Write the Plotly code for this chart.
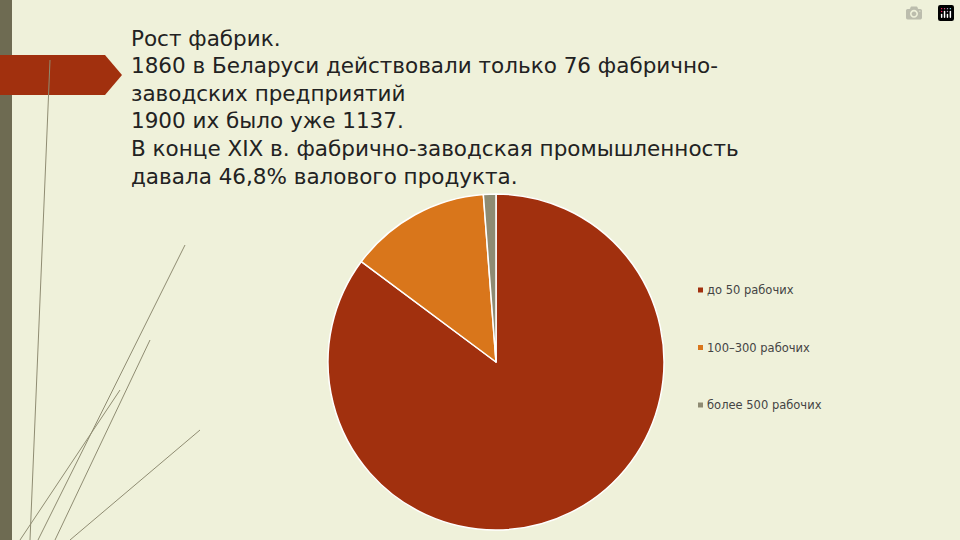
import plotly.graph_objects as go

categories = ["до 50 рабочих", "100–300 рабочих", "более 500 рабочих"]
shares = [85.2, 13.6, 1.2]
colors = ["#A1300E", "#D9761B", "#8E8B73"]
title_lines = [
    "Рост фабрик.",
    "1860 в Беларуси действовали только 76 фабрично-",
    "заводских предприятий",
    "1900 их было уже 1137.",
    "В конце XIX в. фабрично-заводская промышленность",
    "давала 46,8% валового продукта.",
]

W, H = 960, 540
fig = go.Figure(go.Pie(
    labels=categories, values=shares, sort=False, direction="clockwise", rotation=0,
    marker=dict(colors=colors, line=dict(color="white", width=1.5)),
    textinfo="none", hoverinfo="label+percent", showlegend=False,
    domain=dict(x=[328/W, 664/W], y=[1-530/H, 1-194/H]),
))

shapes = [
    dict(type="rect", xref="paper", yref="paper", x0=0, x1=12/W, y0=0, y1=1,
         fillcolor="#6E6B52", line=dict(width=0), layer="below"),
    dict(type="path", xref="paper", yref="paper",
         path=f"M 0 {1-55/H} L {105/W} {1-55/H} L {122/W} {1-75/H} L {105/W} {1-95/H} L 0 {1-95/H} Z",
         fillcolor="#A1300E", line=dict(width=0)),
]
for (x0, y0, x1, y1) in [(30, 540, 50, 60), (38, 540, 185, 245), (55, 540, 150, 340),
                          (20, 540, 120, 390), (70, 540, 200, 430)]:
    shapes.append(dict(type="line", xref="paper", yref="paper", x0=x0/W, y0=1-y0/H,
                       x1=x1/W, y1=1-y1/H, line=dict(color="#8F8C72", width=1)))

annotations = []
for i, line in enumerate(title_lines):
    annotations.append(dict(text=line, xref="paper", yref="paper", x=129/W, y=1-(38+27.6*i)/H,
                            xanchor="left", yanchor="middle", showarrow=False,
                            font=dict(family="DejaVu Sans", size=21.5, color="#222222")))
for i, (lab, c) in enumerate(zip(categories, colors)):
    yy = 290 + 57.5*i
    shapes.append(dict(type="rect", xref="paper", yref="paper", x0=698/W, x1=703/W,
                       y0=1-(yy+2.5)/H, y1=1-(yy-2.5)/H, fillcolor=c, line=dict(width=0)))
    annotations.append(dict(text=lab, xref="paper", yref="paper", x=705/W, y=1-yy/H,
                            xanchor="left", yanchor="middle", showarrow=False,
                            font=dict(family="DejaVu Sans", size=11.5, color="#444444")))

fig.update_layout(width=W, height=H, margin=dict(l=0, r=0, t=0, b=0),
                  paper_bgcolor="#EFF1DA", plot_bgcolor="#EFF1DA",
                  shapes=shapes, annotations=annotations)
fig.write_html("out.html", post_script="document.body.style.margin='0';")
